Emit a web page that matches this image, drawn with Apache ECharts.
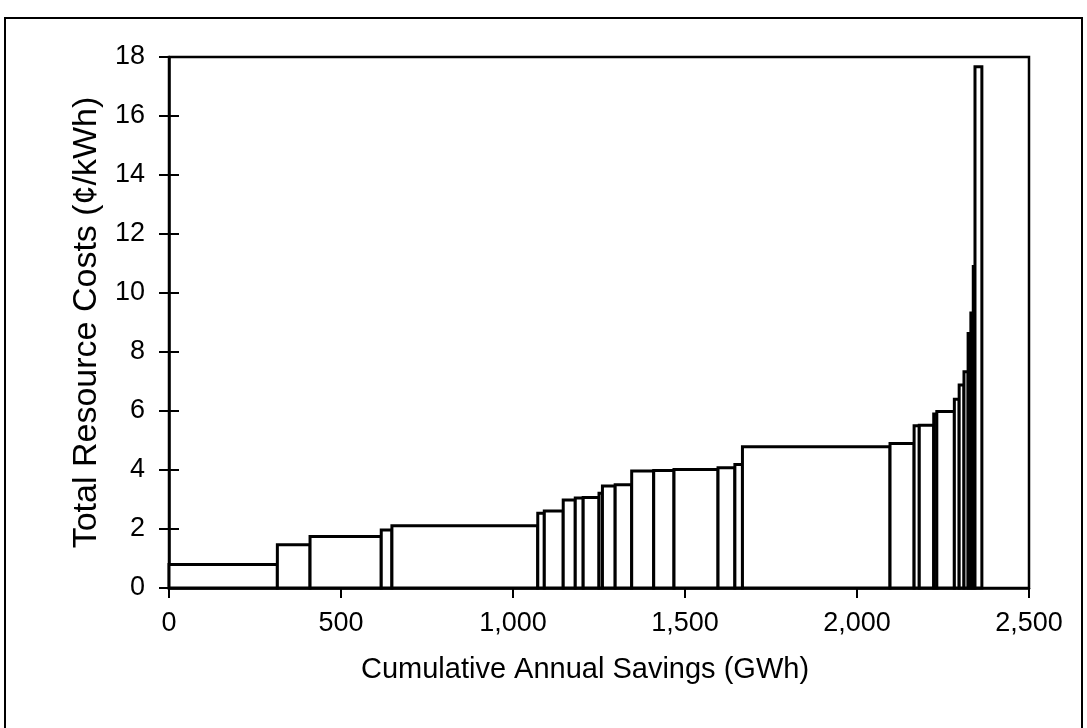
<!DOCTYPE html>
<html>
<head>
<meta charset="utf-8">
<script src="https://cdn.jsdelivr.net/npm/echarts@6/dist/echarts.min.js"></script>
<style>
  html, body { margin: 0; padding: 0; background: #fff; }
</style>
</head>
<body>
<div id="main" style="width:1087px;height:728px;"></div>
<script>
    // cumulative savings at the right edge of each step (GWh)
    var stepEnds = [315, 410, 617, 648, 1072, 1091, 1146, 1181, 1204, 1250, 1260, 1297, 1345,
        1409, 1468, 1596, 1645, 1667, 2096, 2166, 2181, 2223, 2232, 2283, 2297, 2311, 2323,
        2331, 2338, 2343, 2363];
    // total resource cost of each step (cents/kWh)
    var stepCosts = [0.80, 1.47, 1.75, 1.97, 2.11, 2.53, 2.61, 2.98, 3.05, 3.07, 3.21, 3.46, 3.50,
        3.97, 3.98, 4.02, 4.08, 4.19, 4.79, 4.90, 5.50, 5.52, 5.90, 5.98, 6.40, 6.88, 7.33,
        8.63, 9.32, 10.90, 17.67];
    var xTicks = [0, 500, 1000, 1500, 2000, 2500];
    var yTicks = [0, 2, 4, 6, 8, 10, 12, 14, 16, 18];

    var steps = stepCosts.map(function (c, i) {
        return [i ? stepEnds[i - 1] : 0, stepEnds[i], c];
    });

    var font = '"Liberation Sans", Arial, sans-serif';
    var myChart = echarts.init(document.getElementById('main'));

    myChart.setOption({
        animation: false,
        backgroundColor: '#fff',
        textStyle: { fontFamily: font, color: '#000' },
        graphic: [{
            type: 'rect',
            shape: { x: 5, y: 18, width: 1077, height: 800 },
            style: { fill: 'none', stroke: '#000', lineWidth: 2 },
            silent: true
        }],
        grid: {
            left: 169, right: 58, top: 57, bottom: 140,
            show: true, borderColor: '#000', borderWidth: 2.5, backgroundColor: 'transparent'
        },
        xAxis: {
            type: 'value',
            min: xTicks[0], max: xTicks[xTicks.length - 1], interval: 500,
            name: 'Cumulative Annual Savings (GWh)',
            nameLocation: 'middle', nameGap: 67,
            nameTextStyle: { fontSize: 29, color: '#000', fontFamily: font, padding: [0, 28, 0, 0] },
            axisLine: { lineStyle: { color: '#000', width: 2.5 } },
            axisTick: { length: 10, lineStyle: { color: '#000', width: 2 } },
            axisLabel: {
                fontSize: 27, color: '#000', margin: 22, fontFamily: font,
                formatter: function (v) { return v.toLocaleString('en-US'); }
            },
            splitLine: { show: false }
        },
        yAxis: [{
            type: 'value',
            min: yTicks[0], max: yTicks[yTicks.length - 1], interval: 2,
            name: 'Total Resource Costs (\u00a2/kWh)',
            nameLocation: 'middle', nameGap: 64,
            nameTextStyle: { fontSize: 34, color: '#000', fontFamily: font },
            axisLine: { lineStyle: { color: '#000', width: 2.5 } },
            axisTick: { length: 10, lineStyle: { color: '#000', width: 2 } },
            axisLabel: { fontSize: 27, color: '#000', margin: 24, fontFamily: font },
            splitLine: { show: false }
        }, {
            // inner half of the crossing y ticks
            type: 'value', position: 'left',
            min: yTicks[0], max: yTicks[yTicks.length - 1], interval: 2,
            axisLine: { show: false },
            axisTick: { inside: true, length: 10, lineStyle: { color: '#000', width: 2 } },
            axisLabel: { show: false },
            splitLine: { show: false }
        }],
        series: [{
            type: 'custom',
            data: steps,
            encode: { x: [0, 1], y: 2 },
            renderItem: function (params, api) {
                var p0 = api.coord([api.value(0), api.value(2)]);
                var p1 = api.coord([api.value(1), 0]);
                return {
                    type: 'rect',
                    shape: { x: p0[0], y: p0[1], width: p1[0] - p0[0], height: p1[1] - p0[1] },
                    style: { fill: '#fff', stroke: '#000', lineWidth: 3 }
                };
            }
        }]
    });
</script>
</body>
</html>
